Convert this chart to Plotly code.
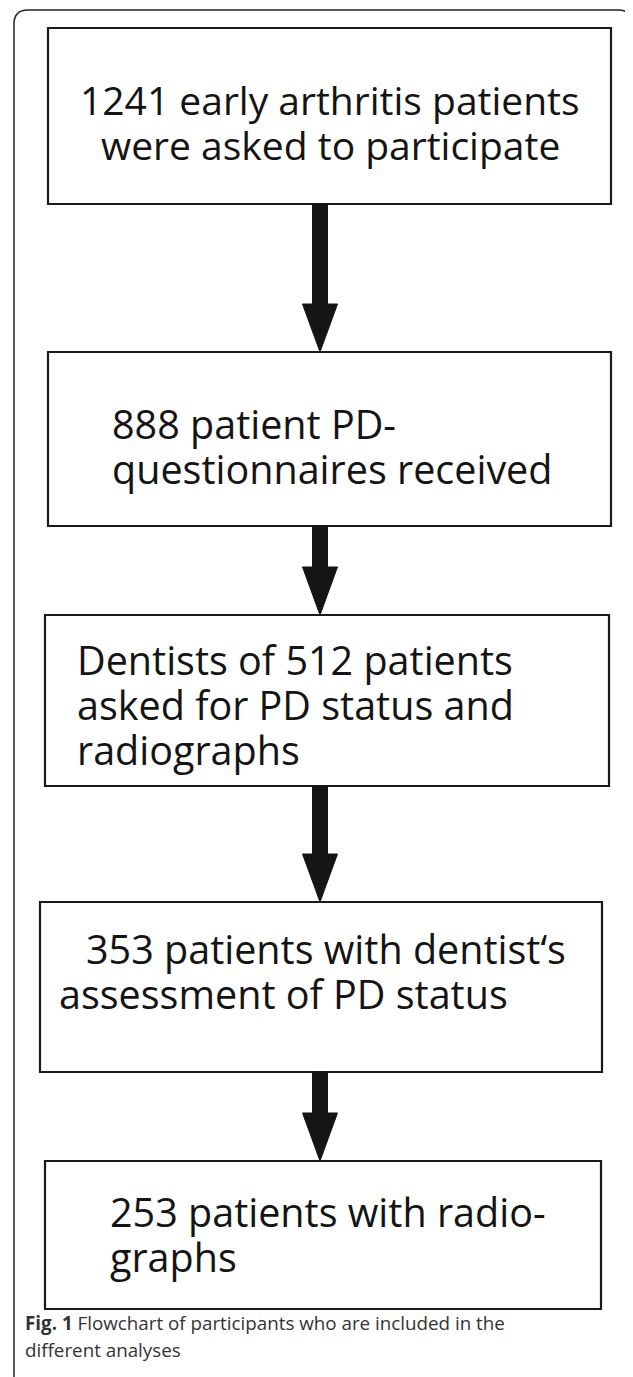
import plotly.graph_objects as go

# ---- data ----
counts = [1241, 888, 512, 353, 253]
box_lines = [
    [f"{counts[0]} early arthritis patients", "were asked to participate"],
    [f"{counts[1]} patient PD-", "questionnaires received"],
    [f"Dentists of {counts[2]} patients", "asked for PD status and", "radiographs"],
    [f"{counts[3]} patients with dentist‘s", "assessment of PD status"],
    [f"{counts[4]} patients with radio-", "graphs"],
]
caption_bold = "Fig. 1"
caption_text = ["Flowchart of participants who are included in the", "different analyses"]

# ---- layout geometry (page pixels) ----
W, H = 633, 1377
OFF = 8  # default page body margin, compensated in the axis ranges
boxes = [(48, 611, 28, 204), (48, 611, 352, 526), (45, 609, 615, 786),
         (40, 602, 902, 1072), (45, 601, 1161, 1309)]
# per-line text placement: list of (x, anchor) and first line center y
text_x = [[(330, "center"), (330, "center")],
          [(110, "left"), (110, "left")],
          [(75, "left"), (75, "left"), (75, "left")],
          [(84, "left"), (57, "left")],
          [(108, "left"), (108, "left")]]
text_y0 = [99, 424, 660, 949, 1212]
text_size = [39, 39.5, 39.5, 39.5, 39.5]
line_gap = 45
arrow_x = 320
FONT = "Open Sans"

fig = go.Figure()
shapes = []

# outer frame
shapes.append(dict(type="path", xref="x", yref="y",
                   path="M 14 1400 L 14 24 Q 14 10 28 10 L 618 10 Q 631 10 633 22",
                   line=dict(color="#222", width=1.5)))

for (x0, x1, y0, y1) in boxes:
    shapes.append(dict(type="rect", xref="x", yref="y", x0=x0, x1=x1, y0=y0, y1=y1,
                       line=dict(color="#1a1a1a", width=2.2), fillcolor="white"))

# arrows between boxes
sw, hw, hl = 7.5, 17.5, 48
for i in range(len(boxes) - 1):
    ys = boxes[i][3]
    ye = boxes[i + 1][2]
    yh = ye - hl
    p = (f"M {arrow_x-sw} {ys} L {arrow_x+sw} {ys} L {arrow_x+sw} {yh} L {arrow_x+hw} {yh} "
         f"L {arrow_x} {ye} L {arrow_x-hw} {yh} L {arrow_x-sw} {yh} Z")
    shapes.append(dict(type="path", xref="x", yref="y", path=p,
                       fillcolor="#151515", line=dict(color="#151515", width=1)))

annotations = []
for lines, xs, ty, fs in zip(box_lines, text_x, text_y0, text_size):
    for j, (ln, (tx, anc)) in enumerate(zip(lines, xs)):
        annotations.append(dict(x=tx, y=ty + j * line_gap, xref="x", yref="y",
                                text=ln, showarrow=False, xanchor=anc, yanchor="middle",
                                font=dict(family=FONT, size=fs, color="#141414")))

# caption
annotations.append(dict(x=23, y=1323, xref="x", yref="y", showarrow=False,
                        xanchor="left", yanchor="middle",
                        text=f"<b>{caption_bold}</b> {caption_text[0]}",
                        font=dict(family=FONT, size=18.8, color="#333")))
annotations.append(dict(x=23, y=1350, xref="x", yref="y", showarrow=False,
                        xanchor="left", yanchor="middle",
                        text=caption_text[1],
                        font=dict(family=FONT, size=18.8, color="#333")))

fig.update_layout(
    width=W, height=H, margin=dict(l=0, r=0, t=0, b=0),
    paper_bgcolor="white", plot_bgcolor="white",
    xaxis=dict(range=[OFF, W + OFF], visible=False, fixedrange=True),
    yaxis=dict(range=[H + OFF, OFF], visible=False, fixedrange=True),
    shapes=shapes, annotations=annotations, showlegend=False,
)
fig.write_html("out.html", config={"displayModeBar": False})
